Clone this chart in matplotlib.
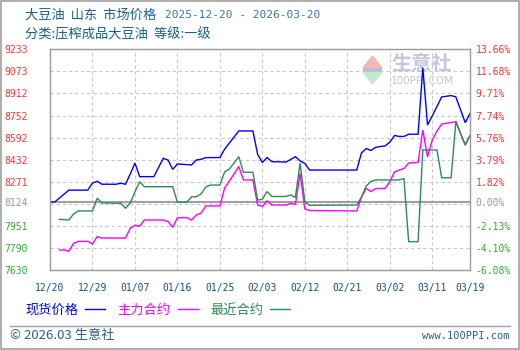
import matplotlib
matplotlib.use("Agg")
import matplotlib.pyplot as plt
from matplotlib.patches import Polygon, Rectangle
from matplotlib.lines import Line2D
import numpy as np
import pandas as pd

CJK = ['Noto Sans CJK SC', 'DejaVu Sans']
MONO = ['DejaVu Sans Mono']

# ---------------- data ----------------
title_main = "大豆油  山东  市场价格"
title_dates = "2025-12-20 - 2026-03-20"
subtitle = "分类:压榨成品大豆油  等级:一级"
series_names = ["现货价格", "主力合约", "最近合约"]

base_price = 8124
y_labels_left = ["9233", "9073", "8912", "8752", "8592", "8432", "8271", "8124", "7951", "7790", "7630"]
y_labels_right = ["13.66%", "11.68%", "9.71%", "7.74%", "5.76%", "3.79%", "1.82%", "0.00%",
                  "-2.13%", "-4.10%", "-6.08%"]
x_tick_dates = ["2025-12-20", "2025-12-29", "2026-01-07", "2026-01-16", "2026-01-25", "2026-02-03",
                "2026-02-12", "2026-02-21", "2026-03-02", "2026-03-11", "2026-03-19"]

spot_dates = ["2025-12-20", "2025-12-21", "2025-12-24", "2025-12-28", "2025-12-29", "2025-12-30",
              "2025-12-31", "2026-01-03", "2026-01-04", "2026-01-05", "2026-01-06", "2026-01-07",
              "2026-01-08", "2026-01-11", "2026-01-13", "2026-01-14", "2026-01-15", "2026-01-16",
              "2026-01-19", "2026-01-20", "2026-01-21", "2026-01-22", "2026-01-25", "2026-01-26",
              "2026-01-29", "2026-02-01", "2026-02-02", "2026-02-03", "2026-02-04", "2026-02-05",
              "2026-02-08", "2026-02-09", "2026-02-10", "2026-02-11", "2026-02-12", "2026-02-13",
              "2026-02-23", "2026-02-24", "2026-02-25", "2026-02-26", "2026-02-27", "2026-02-28",
              "2026-03-01", "2026-03-02", "2026-03-03", "2026-03-04", "2026-03-05", "2026-03-06",
              "2026-03-08", "2026-03-09", "2026-03-10", "2026-03-11", "2026-03-13", "2026-03-15",
              "2026-03-16", "2026-03-18", "2026-03-19"]
spot_vals = [8124, 8124, 8210, 8210, 8262, 8274,
             8253, 8253, 8260, 8253, 8327, 8407,
             8308, 8308, 8441, 8429, 8361, 8400,
             8393, 8429, 8434, 8446, 8447, 8507,
             8640, 8640, 8470, 8411, 8447, 8417,
             8414, 8433, 8453, 8422, 8404, 8356,
             8356, 8480, 8512, 8498, 8521, 8527,
             8531, 8558, 8607, 8600, 8600, 8616,
             8616, 9100, 8683, 8749, 8887, 8897,
             8887, 8700, 8767]

main_dates = ["2025-12-22", "2025-12-23", "2025-12-24", "2025-12-25", "2025-12-26", "2025-12-28",
              "2025-12-29", "2025-12-30", "2025-12-31", "2026-01-05", "2026-01-06", "2026-01-07",
              "2026-01-08", "2026-01-09", "2026-01-13", "2026-01-14", "2026-01-15", "2026-01-16",
              "2026-01-18", "2026-01-19", "2026-01-20", "2026-01-21", "2026-01-22", "2026-01-25",
              "2026-01-26", "2026-01-27", "2026-01-28", "2026-01-29", "2026-01-30", "2026-02-01",
              "2026-02-02", "2026-02-03", "2026-02-04", "2026-02-05", "2026-02-08", "2026-02-09",
              "2026-02-10", "2026-02-11", "2026-02-12", "2026-02-13", "2026-02-23", "2026-02-24",
              "2026-02-25", "2026-02-26", "2026-02-27", "2026-03-01", "2026-03-02", "2026-03-03",
              "2026-03-04", "2026-03-05", "2026-03-06", "2026-03-08", "2026-03-09", "2026-03-10",
              "2026-03-11", "2026-03-12", "2026-03-13", "2026-03-15", "2026-03-16", "2026-03-18",
              "2026-03-19"]
main_vals = [7775, 7775, 7766, 7824, 7838, 7838,
             7819, 7872, 7862, 7862, 7933, 7955,
             7948, 7993, 7993, 7982, 7940, 8010,
             8010, 7993, 8030, 8042, 8095, 8095,
             8226, 8276, 8327, 8382, 8284, 8284,
             8102, 8091, 8133, 8102, 8102, 8114,
             8106, 8331, 8073, 8062, 8059, 8157,
             8223, 8200, 8222, 8222, 8271, 8342,
             8356, 8367, 8407, 8411, 8647, 8451,
             8574, 8640, 8690, 8701, 8707, 8538,
             8607]

near_dates = ["2025-12-22", "2025-12-24", "2025-12-25", "2025-12-26", "2025-12-29", "2025-12-30",
              "2025-12-31", "2026-01-04", "2026-01-05", "2026-01-06", "2026-01-07", "2026-01-08",
              "2026-01-09", "2026-01-15", "2026-01-16", "2026-01-18", "2026-01-19", "2026-01-20",
              "2026-01-21", "2026-01-22", "2026-01-23", "2026-01-25", "2026-01-26", "2026-01-27",
              "2026-01-28", "2026-01-29", "2026-01-30", "2026-02-01", "2026-02-02", "2026-02-03",
              "2026-02-04", "2026-02-05", "2026-02-08", "2026-02-09", "2026-02-10", "2026-02-11",
              "2026-02-12", "2026-02-13", "2026-02-23", "2026-02-24", "2026-02-25", "2026-02-26",
              "2026-02-27", "2026-03-04", "2026-03-05", "2026-03-06", "2026-03-08", "2026-03-09",
              "2026-03-12", "2026-03-13", "2026-03-15", "2026-03-16", "2026-03-18", "2026-03-19"]
near_vals = [7998, 7993, 8037, 8059, 8059, 8151,
             8117, 8115, 8078, 8117, 8197, 8271,
             8235, 8235, 8122, 8122, 8162, 8162,
             8182, 8233, 8247, 8247, 8342, 8364,
             8407, 8453, 8340, 8340, 8138, 8144,
             8200, 8164, 8164, 8175, 8157, 8407,
             8124, 8100, 8102, 8160, 8240, 8273,
             8284, 8284, 8295, 7836, 7836, 8502,
             8502, 8300, 8300, 8707, 8538, 8607]

series_colors = ["#0000ff", "#ff00ff", "#2e8b57"]

# ---------------- figure ----------------
W, H = 520, 350
fig = plt.figure(figsize=(W / 100, H / 100), dpi=100)
fig.patch.set_facecolor("white")


def fx(x):
    return x / W


def fy(y):
    return 1 - y / H


ax = fig.add_axes([fx(50), fy(270), fx(420), (270 - 49.3) / H])
ax.patch.set_alpha(0)

y_vals = [float(v) for v in y_labels_left]
y_min, y_max = min(y_vals), max(y_vals)
x_ticks = pd.to_datetime(x_tick_dates)
ax.set_xlim(x_ticks[0], x_ticks[-1])
ax.set_ylim(y_min, y_max)

# grid
for v in np.linspace(y_min, y_max, 11)[1:-1]:
    ax.axhline(v, color="#c8c8c8", lw=0.8, ls=(0, (3, 2.5)), zorder=1)
for d in x_ticks[1:-1]:
    ax.axvline(d, color="#c8c8c8", lw=0.8, ls=(0, (3, 2.5)), zorder=1)
ax.axhline(base_price, color="#a0a0a0", lw=1.5, zorder=1.5)

# watermark
wm_red = Polygon([(fx(362), fy(68)), (fx(383), fy(68)), (fx(372.5), fy(55))], closed=True,
                 transform=fig.transFigure, facecolor="#f5b8b8", edgecolor="none", zorder=0.5, clip_on=False)
wm_green = Polygon([(fx(362), fy(72)), (fx(383), fy(72)), (fx(372.5), fy(85))], closed=True,
                   transform=fig.transFigure, facecolor="#c4ebc8", edgecolor="none", zorder=0.5, clip_on=False)
ax.add_patch(wm_red)
ax.add_patch(wm_green)
ax.add_patch(Rectangle((fx(363), fy(72)), fx(19), 4 / H, transform=fig.transFigure,
                       facecolor="#b7bfd8", edgecolor="none", zorder=0.5, clip_on=False))
ax.text(fx(422), fy(64), "生意社", transform=fig.transFigure, ha="center", va="center",
        fontsize=14.5, color="#c3c7de", family=CJK, zorder=0.5, fontweight="bold")
ax.text(fx(422), fy(80.5), "100PPI.COM", transform=fig.transFigure, ha="center", va="center",
        fontsize=7.5, color="#c8c8c8", family=["DejaVu Sans"], zorder=0.5)

# lines
handles = []
for dates, vals, col in [(spot_dates, spot_vals, series_colors[0]),
                         (main_dates, main_vals, series_colors[1]),
                         (near_dates, near_vals, series_colors[2])]:
    ln, = ax.plot(pd.to_datetime(dates), vals, color=col, lw=1.0, zorder=2,
                  solid_joinstyle="miter")
    handles.append(ln)

# spines
for s in ax.spines.values():
    s.set_color("#9a9a9a")
    s.set_linewidth(1.0)

# x ticks
ax.set_xticks(x_ticks)
ax.set_xticklabels([d.strftime("%m/%d") for d in x_ticks], family=MONO, fontsize=7, color="#1a4f7f")
ax.tick_params(axis="x", length=0, pad=9.5)

# left y ticks
ax.set_yticks(y_vals)
ax.set_yticklabels(y_labels_left, family=MONO, fontsize=7)
ax.tick_params(axis="y", length=0, pad=16)


def lab_color(v):
    if v > base_price:
        return "#ff3333"
    if v < base_price:
        return "#33aa33"
    return "#999999"


for t, v in zip(ax.get_yticklabels(), y_vals):
    t.set_color(lab_color(v))

ax2 = ax.twinx()
ax2.set_ylim(y_min, y_max)
ax2.set_yticks(y_vals)
ax2.set_yticklabels(y_labels_right, family=MONO, fontsize=7)
ax2.tick_params(axis="y", length=0, pad=4)
for s in ax2.spines.values():
    s.set_visible(False)
for t, v in zip(ax2.get_yticklabels(), y_vals):
    t.set_color(lab_color(v))

# titles
fig.text(fx(25), fy(15), title_main, family=CJK, fontsize=9.5, color="#1b5e8c", va="center", ha="left")
fig.text(fx(165), fy(15.5), title_dates, family=MONO, fontsize=8, color="#3f72a6", va="center", ha="left")
fig.text(fx(25), fy(35), subtitle, family=CJK, fontsize=9.5, color="#1b5e8c", va="center", ha="left")

# legend
leg = fig.legend(handles, series_names, loc="center left", bbox_to_anchor=(fx(25), fy(310)),
                 ncol=3, markerfirst=False, frameon=False, handlelength=1.5, handletextpad=0.55,
                 columnspacing=0.95, borderpad=0, borderaxespad=0,
                 prop={"family": CJK, "size": 9.5}, labelcolor="linecolor")

# footer
fig.add_artist(Line2D([fx(10), fx(510)], [fy(326), fy(326)], transform=fig.transFigure,
                      color="#a0a0a0", lw=1.0))
fig.text(fx(10), fy(336), "© 2026.03 生意社", family=CJK, fontsize=9.5, color="#2a5f8a",
         va="center", ha="left")
fig.text(fx(510), fy(336), "www.100PPI.com", family=MONO, fontsize=7.5, color="#2a5f8a",
         va="center", ha="right")

# outer border
fig.add_artist(Rectangle((0.001, 0.002), 0.997, 0.996, transform=fig.transFigure, fill=False,
                         edgecolor="#a0a0a0", lw=1.2))

fig.savefig("out.png", dpi=100)
